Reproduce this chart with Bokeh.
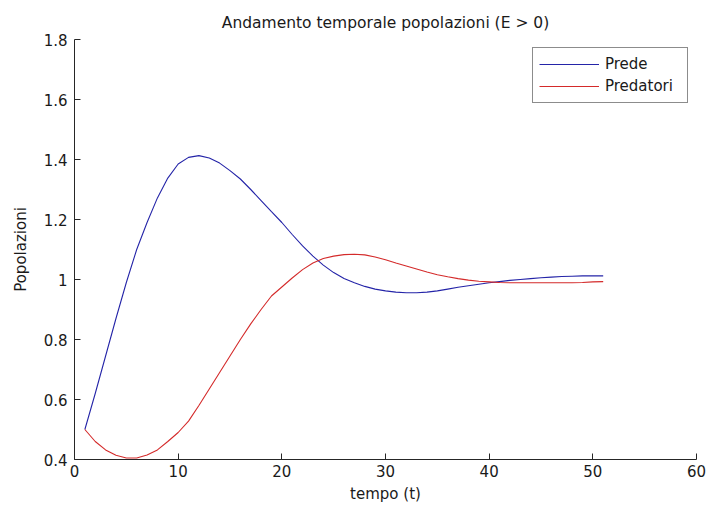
from bokeh.plotting import figure
from bokeh.models import Range1d, FixedTicker, NumeralTickFormatter, Legend, LegendItem
from bokeh.embed import file_html
from bokeh.resources import INLINE

# Simulated predator-prey populations over time (E > 0)
tempo = [1, 2, 3, 4, 5, 6, 7, 8, 9, 10,
         11, 12, 13, 14, 15, 16, 17, 18, 19, 20,
         21, 22, 23, 24, 25, 26, 27, 28, 29, 30,
         31, 32, 33, 34, 35, 36, 37, 38, 39, 40,
         41, 42, 43, 44, 45, 46, 47, 48, 49, 50, 51]

prede = [0.500, 0.620, 0.745, 0.870, 0.990, 1.100, 1.190, 1.272, 1.338, 1.385,
         1.407, 1.413, 1.405, 1.388, 1.363, 1.335, 1.300, 1.263, 1.226, 1.190,
         1.150, 1.112, 1.078, 1.048, 1.023, 1.003, 0.989, 0.977, 0.968, 0.962,
         0.958, 0.956, 0.956, 0.958, 0.962, 0.968, 0.974, 0.979, 0.984, 0.989,
         0.993, 0.997, 1.000, 1.003, 1.006, 1.008, 1.010, 1.011, 1.012, 1.012, 1.012]

predatori = [0.500, 0.460, 0.432, 0.414, 0.405, 0.405, 0.415, 0.432, 0.460, 0.490,
             0.528, 0.580, 0.635, 0.690, 0.745, 0.800, 0.852, 0.900, 0.945, 0.975,
             1.005, 1.033, 1.055, 1.070, 1.078, 1.083, 1.084, 1.082, 1.075, 1.066,
             1.055, 1.045, 1.035, 1.025, 1.016, 1.009, 1.003, 0.998, 0.994, 0.992,
             0.990, 0.989, 0.989, 0.989, 0.989, 0.989, 0.989, 0.989, 0.990, 0.992, 0.993]

x_ticks = [0, 10, 20, 30, 40, 50, 60]
y_ticks = [0.4, 0.6, 0.8, 1.0, 1.2, 1.4, 1.6, 1.8]
y_tick_labels = ["0.4", "0.6", "0.8", "1", "1.2", "1.4", "1.6", "1.8"]

FONT = "DejaVu Sans"
TEXT = "#1a1a1a"

p = figure(
    width=706, height=505,
    x_range=Range1d(0, 60), y_range=Range1d(0.4, 1.8),
    output_backend="svg", toolbar_location=None,
    title="Andamento temporale popolazioni (E > 0)",
    min_border_left=74, min_border_right=10, min_border_top=39, min_border_bottom=46,
)
p.background_fill_color = "white"
p.border_fill_color = "white"
p.outline_line_color = None
p.grid.visible = False

p.title.align = "center"
p.title.text_font = FONT
p.title.text_font_size = "15.5px"
p.title.text_font_style = "normal"
p.title.text_color = TEXT
p.title.standoff = 16

p.xaxis.ticker = FixedTicker(ticks=x_ticks)
p.yaxis.ticker = FixedTicker(ticks=y_ticks)
p.yaxis.formatter = NumeralTickFormatter(format="0.[0]")
p.yaxis.major_label_overrides = dict(zip(y_ticks, y_tick_labels))

p.xaxis.axis_label = "tempo (t)"
p.yaxis.axis_label = "Popolazioni"

for ax in (p.xaxis[0], p.yaxis[0]):
    ax.axis_line_color = "#262626"
    ax.major_tick_line_color = "#262626"
    ax.major_tick_in = 6
    ax.major_tick_out = 0
    ax.minor_tick_line_color = None
    ax.major_label_text_font = FONT
    ax.major_label_text_font_size = "15px"
    ax.major_label_text_color = TEXT
    ax.axis_label_text_font = FONT
    ax.axis_label_text_font_size = "15px"
    ax.axis_label_text_font_style = "normal"
    ax.axis_label_text_color = TEXT

p.xaxis.major_label_standoff = 5
p.xaxis.axis_label_standoff = 5
p.yaxis.major_label_standoff = 7
p.yaxis.axis_label_standoff = 11

r_prede = p.line(tempo, prede, line_color="#2424a8", line_width=1.1)
r_pred = p.line(tempo, predatori, line_color="#d42a2a", line_width=1.1)

legend = Legend(
    items=[LegendItem(label="Prede", renderers=[r_prede]),
           LegendItem(label="Predatori", renderers=[r_pred])],
    location="top_right",
    margin=8,
    padding=6,
    spacing=2,
    glyph_width=60,
    glyph_height=20,
    label_height=20,
    label_width=76,
    label_standoff=6,
    label_text_font=FONT,
    label_text_font_size="15px",
    label_text_color=TEXT,
    border_line_color="#1a1a1a",
    border_line_width=1,
    background_fill_color="white",
    background_fill_alpha=1.0,
)
p.add_layout(legend)

with open("out.html", "w") as f:
    f.write(file_html(p, INLINE))
